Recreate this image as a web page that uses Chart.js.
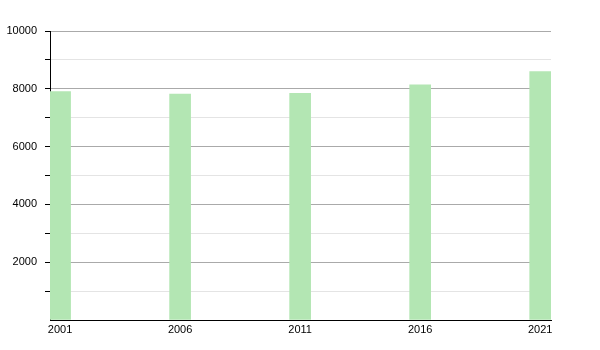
<!DOCTYPE html>
<html>
<head>
<meta charset="utf-8">
<script src="https://cdn.jsdelivr.net/npm/chart.js@4/dist/chart.umd.min.js"></script>
<style>
  html, body { margin: 0; padding: 0; background: #fff; }
  #wrap { width: 600px; height: 350px; }
</style>
</head>
<body>
<div id="wrap"><canvas id="popChart" width="600" height="350"></canvas></div>
<script>
// Census years and population counts
const years = [2001, 2006, 2011, 2016, 2021];
const population = [7900, 7820, 7840, 8140, 8600];
const yTicks = [0, 1000, 2000, 3000, 4000, 5000, 6000, 7000, 8000, 9000, 10000];

const ctx = document.getElementById('popChart').getContext('2d');

new Chart(ctx, {
    type: 'bar',
    data: {
        datasets: [{
            data: years.map((yr, i) => ({ x: yr, y: population[i] })),
            backgroundColor: '#b3e6b3',
            borderWidth: 0,
            barThickness: 21
        }]
    },
    options: {
        responsive: false,
        animation: false,
        layout: { padding: { top: 31, right: 49, left: 0, bottom: 0 } },
        plugins: { legend: { display: false }, tooltip: { enabled: false } },
        scales: {
            x: {
                type: 'linear',
                offset: false,
                min: 2000.58,
                max: 2021.45,
                afterBuildTicks: (scale) => { scale.ticks = years.map(v => ({ value: v })); },
                afterFit: (scale) => { scale.height = 30; },
                grid: { offset: false, drawOnChartArea: false, drawTicks: false },
                border: { display: true, color: '#000', width: 1 },
                ticks: {
                    color: '#000',
                    padding: 3,
                    maxRotation: 0,
                    font: { family: 'Liberation Sans', size: 11 },
                    callback: (v) => String(v)
                }
            },
            y: {
                min: 0,
                max: 10000,
                afterBuildTicks: (scale) => { scale.ticks = yTicks.map(v => ({ value: v })); },
                afterFit: (scale) => { scale.width = 50; },
                border: { display: true, color: '#000', width: 1 },
                grid: {
                    color: (c) => (c.tick && c.tick.value % 2000 === 0) ? '#aaaaaa' : '#e4e4e4',
                    tickColor: (c) => (c.tick && c.tick.value === 0) ? 'rgba(0,0,0,0)' : '#000',
                    tickLength: 5,
                    lineWidth: 1
                },
                ticks: {
                    color: '#000',
                    padding: 8,
                    font: { family: 'Liberation Sans', size: 11 },
                    callback: (v) => (v > 0 && v % 2000 === 0) ? String(v) : ''
                }
            }
        }
    }
});
</script>
</body>
</html>
